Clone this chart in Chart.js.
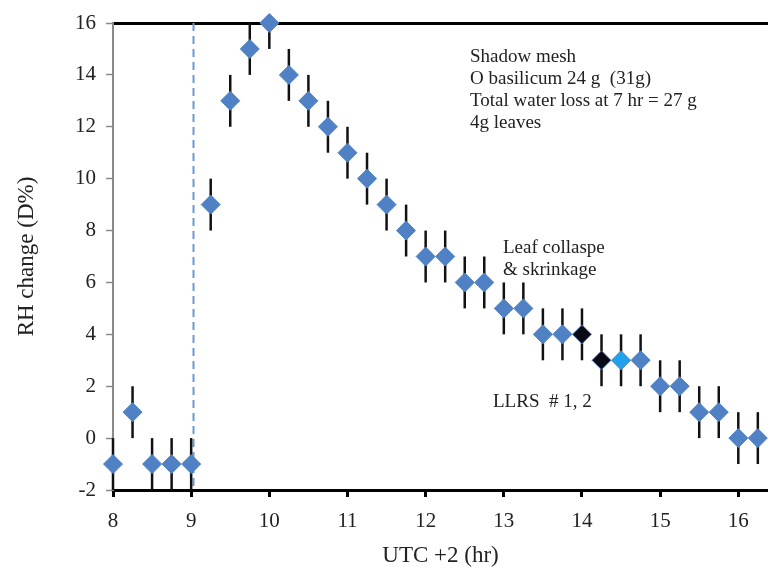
<!DOCTYPE html>
<html>
<head>
<meta charset="utf-8">
<script src="https://cdn.jsdelivr.net/npm/chart.js@4/dist/chart.umd.min.js"></script>
<style>
  body { margin: 0; background: #fff; }
  #wrap { width: 768px; height: 570px; }
</style>
</head>
<body>
<div id="wrap"><canvas id="rhChart" width="768" height="570"></canvas></div>
<script>
// time (UTC +2, hr) and RH change (D%)
const hours = [8, 8.25, 8.5, 8.75, 9, 9.25, 9.5, 9.75, 10, 10.25, 10.5, 10.75, 11, 11.25, 11.5, 11.75,
    12, 12.25, 12.5, 12.75, 13, 13.25, 13.5, 13.75, 14, 14.25, 14.5, 14.75, 15, 15.25, 15.5, 15.75, 16, 16.25];
const rhChange = [-1, 1, -1, -1, -1, 9, 13, 15, 16, 14, 13, 12, 11, 10, 9, 8,
    7, 7, 6, 6, 5, 5, 4, 4, 4, 3, 3, 3, 2, 2, 1, 1, 0, 0];
const rhError = [1, 1, 1, 1, 1, 1, 1, 1, 1, 1, 1, 1, 1, 1, 1, 1,
    1, 1, 1, 1, 1, 1, 1, 1, 1, 1, 1, 1, 1, 1, 1, 1, 1, 1];
const xTicks = [8, 9, 10, 11, 12, 13, 14, 15, 16];
const yTicks = [-2, 0, 2, 4, 6, 8, 10, 12, 14, 16];
const markerStart = 9.03; // dashed line

const blue = "#4f81c4";
const pointColors = hours.map(function (h) {
    if (h === 14 || h === 14.25) return "#0a0a14";
    if (h === 14.5) return "#22a2ea";
    return blue;
});

const serif = "'Liberation Serif', 'Times New Roman', serif";

const errorBars = {
    id: "errorBars",
    beforeDatasetsDraw(chart) {
        const ctx = chart.ctx;
        const x = chart.scales.x, y = chart.scales.y;
        ctx.save();
        // dashed line
        ctx.strokeStyle = "#6a9ad2";
        ctx.lineWidth = 2;
        ctx.setLineDash([8, 5]);
        const dx = x.getPixelForValue(markerStart);
        ctx.beginPath();
        ctx.moveTo(dx, chart.chartArea.top);
        ctx.lineTo(dx, chart.chartArea.bottom);
        ctx.stroke();
        ctx.setLineDash([]);
        // error bars
        ctx.strokeStyle = "#111";
        ctx.lineWidth = 2.5;
        hours.forEach(function (h, i) {
            const px = x.getPixelForValue(h);
            const lo = Math.max(rhChange[i] - rhError[i], -2);
            const hi = Math.min(rhChange[i] + rhError[i], 16);
            ctx.beginPath();
            ctx.moveTo(px, y.getPixelForValue(lo));
            ctx.lineTo(px, y.getPixelForValue(hi));
            ctx.stroke();
        });
        ctx.restore();
    },
    afterDraw(chart) {
        const ctx = chart.ctx;
        ctx.save();
        ctx.fillStyle = "#222";
        ctx.font = "19px " + serif;
        ctx.textBaseline = "alphabetic";
        const notes = ["Shadow mesh", "O basilicum 24 g  (31g)", "Total water loss at 7 hr = 27 g", "4g leaves"];
        notes.forEach(function (t, i) { ctx.fillText(t, 470, 62 + i * 22); });
        ctx.fillText("Leaf collaspe", 503, 253);
        ctx.fillText("& skrinkage", 503, 275);
        ctx.fillText("LLRS  # 1, 2", 493, 407);
        ctx.restore();
    }
};

new Chart(document.getElementById("rhChart"), {
    type: "scatter",
    data: {
        datasets: [{
            data: hours.map(function (h, i) { return { x: h, y: rhChange[i] }; }),
            pointStyle: "rectRot",
            pointRadius: 9.5,
            pointHoverRadius: 9.5,
            pointBackgroundColor: pointColors,
            pointBorderColor: blue,
            pointBorderWidth: 1,
            clip: false
        }]
    },
    options: {
        responsive: false,
        animation: false,
        layout: { autoPadding: false, padding: { top: 23, right: 0, left: 0, bottom: 0 } },
        plugins: { legend: { display: false }, tooltip: { enabled: false } },
        scales: {
            x: {
                type: "linear",
                min: 8,
                max: 16.38,
                afterBuildTicks: function (s) { s.ticks = xTicks.map(function (v) { return { value: v }; }); },
                afterFit: function (s) { s.height = 80; },
                border: { display: true, color: "#000", width: 3 },
                grid: { drawOnChartArea: false, color: "#000", tickColor: "#000", tickLength: 7, lineWidth: 3 },
                ticks: { color: "#222", font: { family: serif, size: 21 }, padding: 12, maxRotation: 0 },
                title: { display: true, text: "UTC +2 (hr)", color: "#222", font: { family: serif, size: 23 }, padding: { top: 0, bottom: 0 } }
            },
            y: {
                type: "linear",
                min: -2,
                max: 16,
                afterBuildTicks: function (s) { s.ticks = yTicks.map(function (v) { return { value: v }; }); },
                afterFit: function (s) { s.width = 113; },
                border: { display: true, color: "#8a8a8a", width: 2 },
                grid: {
                    drawOnChartArea: true,
                    color: function (c) { return c.tick && c.tick.value === 16 ? "#000" : "rgba(0,0,0,0)"; },
                    lineWidth: function (c) { return c.tick && c.tick.value === 16 ? 3 : 1; },
                    tickColor: "#8a8a8a",
                    tickLength: 7,
                    tickWidth: 1.5
                },
                ticks: { color: "#222", font: { family: serif, size: 21 }, padding: 10 },
                title: { display: true, text: "RH change (D%)", color: "#222", font: { family: serif, size: 23 }, padding: { top: 13, bottom: 0 } }
            }
        }
    },
    plugins: [errorBars]
});
</script>
</body>
</html>
